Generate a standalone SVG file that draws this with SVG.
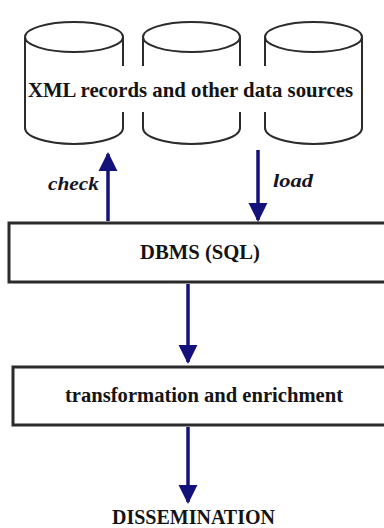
<svg xmlns="http://www.w3.org/2000/svg" width="384" height="528" viewBox="0 0 384 528">
  <defs>
    <marker id="head" viewBox="0 0 10 10" refX="9" refY="5" markerWidth="5.5" markerHeight="6" markerUnits="strokeWidth" orient="auto">
      <path d="M0,0 L10,5 L0,10 z" fill="#12127a"/>
    </marker>
    <style>
      .cyl { fill: none; stroke: #2b2b2b; stroke-width: 2; }
      .box { fill: #ffffff; stroke: #2b2b2b; stroke-width: 3; }
      .lbl { font-family: 'Liberation Serif', 'Times New Roman', serif; font-weight: 700; fill: #141414; text-anchor: middle; }
      .edge { font-family: 'Liberation Serif', 'Times New Roman', serif; font-weight: 700; font-style: italic; fill: #141424; font-size: 18px; }
      .arrow { stroke: #12127a; stroke-width: 3.5; fill: none; marker-end: url(#head); }
    </style>
  </defs>
  <rect width="384" height="528" fill="#ffffff"/>

  <!-- data sources: three cylinders sharing one caption -->
  <g id="sources">
    <g id="cyl1" class="cyl">
      <ellipse cx="74" cy="37" rx="49" ry="15"/>
      <path d="M25,37 V128 A49,16 0 0 0 123,128 V37"/>
    </g>
    <g id="cyl2" class="cyl">
      <ellipse cx="191.5" cy="37" rx="48.5" ry="15"/>
      <path d="M143,37 V128 A48.5,16 0 0 0 240,128 V37"/>
    </g>
    <g id="cyl3" class="cyl">
      <ellipse cx="313.5" cy="37" rx="48.5" ry="15"/>
      <path d="M265,37 V128 A48.5,16 0 0 0 362,128 V37"/>
    </g>
    <!-- caption band interrupts the inner cylinder walls -->
    <rect x="27" y="66" width="333" height="46" fill="#ffffff"/>
    <text class="lbl" x="190.5" y="97" font-size="21.5" textLength="325" lengthAdjust="spacingAndGlyphs">XML records and other data sources</text>
  </g>

  <g id="dbms">
    <rect class="box" x="9" y="223" width="385" height="59"/>
    <text class="lbl" x="200" y="259" font-size="20.5" textLength="120" lengthAdjust="spacingAndGlyphs">DBMS (SQL)</text>
  </g>

  <g id="transform">
    <rect class="box" x="13" y="367" width="381" height="58"/>
    <text class="lbl" x="204" y="402" font-size="20.5" textLength="278" lengthAdjust="spacingAndGlyphs">transformation and enrichment</text>
  </g>

  <g id="dissemination">
    <text class="lbl" x="193.5" y="524" font-size="20.5" textLength="163" lengthAdjust="spacingAndGlyphs">DISSEMINATION</text>
  </g>

  <!-- connectors -->
  <g id="connectors">
    <line class="arrow" x1="108" y1="221" x2="108" y2="154"/>
    <line class="arrow" x1="258" y1="150" x2="258" y2="220"/>
    <line class="arrow" x1="188" y1="284" x2="188" y2="362"/>
    <line class="arrow" x1="188" y1="427" x2="188" y2="502"/>
    <text class="edge" x="48" y="190" textLength="51" lengthAdjust="spacingAndGlyphs">check</text>
    <text class="edge" x="273" y="187" textLength="40" lengthAdjust="spacingAndGlyphs">load</text>
  </g>
</svg>
